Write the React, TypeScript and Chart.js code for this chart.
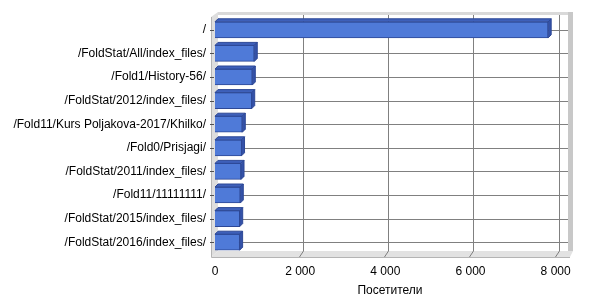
import React, { useEffect, useRef } from "react";
import { Chart, registerables } from "chart.js";

Chart.register(...registerables);

const categories: string[] = [
  "/",
  "/FoldStat/All/index_files/",
  "/Fold1/History-56/",
  "/FoldStat/2012/index_files/",
  "/Fold11/Kurs Poljakova-2017/Khilko/",
  "/Fold0/Prisjagi/",
  "/FoldStat/2011/index_files/",
  "/Fold11/11111111/",
  "/FoldStat/2015/index_files/",
  "/FoldStat/2016/index_files/",
];

const visitors: number[] = [7825, 922, 876, 862, 641, 623, 611, 594, 580, 578];

const xTicks: number[] = [0, 2000, 4000, 6000, 8000];

const axisTitle = "Посетители";

const FONT = "'Liberation Sans', Arial, sans-serif";
const DEPTH = 3;

const fmt = (v: number) =>
  String(v).replace(/\B(?=(\d{3})+(?!\d))/g, " ");

const wallsPlugin = {
  id: "walls3d",
  beforeDatasetsDraw(chart: any) {
    const { ctx, chartArea: ca, scales } = chart;
    const xs = scales.x;
    const ys = scales.y;
    const d = DEPTH;
    ctx.save();
    // back wall
    ctx.fillStyle = "#ffffff";
    ctx.fillRect(ca.left + d, ca.top - d, ca.right - ca.left, ca.bottom - ca.top);
    // walls
    ctx.fillStyle = "#d9d9d9";
    // top strip
    ctx.fillRect(ca.left + d, ca.top - d - 3, ca.right - ca.left + 5, 3);
    // right strip
    ctx.fillStyle = "#c8c8c8";
    ctx.fillRect(ca.right + d, ca.top - d - 3, 5, ca.bottom - ca.top + 3);
    // left strip
    ctx.fillStyle = "#dedede";
    ctx.beginPath();
    ctx.moveTo(ca.left - 4, ca.top - 1);
    ctx.lineTo(ca.left + d, ca.top - d - 3);
    ctx.lineTo(ca.left + d, ca.bottom - d);
    ctx.lineTo(ca.left - 4, ca.bottom + 3);
    ctx.closePath();
    ctx.fill();
    // floor
    ctx.fillStyle = "#e2e2e2";
    ctx.beginPath();
    ctx.moveTo(ca.left - 4, ca.bottom + 3);
    ctx.lineTo(ca.left + d, ca.bottom - d);
    ctx.lineTo(ca.right + d + 5, ca.bottom - d);
    ctx.lineTo(ca.right + 5, ca.bottom + 3);
    ctx.closePath();
    ctx.fill();
    // edge lines
    ctx.strokeStyle = "#b4b4b4";
    ctx.lineWidth = 1;
    ctx.beginPath();
    ctx.moveTo(ca.left - 3.5, ca.top - 1);
    ctx.lineTo(ca.left - 3.5, ca.bottom + 3.5);
    ctx.lineTo(ca.right + 5, ca.bottom + 3.5);
    ctx.stroke();
    // grid lines on back wall
    ctx.strokeStyle = "#808080";
    ctx.beginPath();
    xTicks.forEach((v) => {
      if (v === 0) return;
      const px = Math.round(xs.getPixelForValue(v) + d) + 0.5;
      ctx.moveTo(px, ca.top - d);
      ctx.lineTo(px, ca.bottom - d);
      ctx.moveTo(px, ca.bottom - d);
      ctx.lineTo(px - d - 1, ca.bottom + 3);
    });
    categories.forEach((_, i) => {
      const py = Math.round(ys.getPixelForValue(i)) + 0.5;
      ctx.moveTo(ca.left + d, py);
      ctx.lineTo(ca.right + d, py);
    });
    ctx.stroke();
    // left ticks
    ctx.strokeStyle = "#505050";
    ctx.beginPath();
    categories.forEach((_, i) => {
      const py = Math.round(ys.getPixelForValue(i)) + 0.5;
      ctx.moveTo(ca.left - 5, py);
      ctx.lineTo(ca.left - 1, py);
    });
    ctx.stroke();
    ctx.restore();
  },
};

const bars3dPlugin = {
  id: "bars3d",
  afterDatasetsDraw(chart: any) {
    const { ctx } = chart;
    const meta = chart.getDatasetMeta(0);
    const d = DEPTH;
    ctx.save();
    ctx.lineWidth = 1;
    ctx.strokeStyle = "rgb(45,72,150)";
    meta.data.forEach((el: any) => {
      const p = el.getProps(["x", "y", "base", "height"], true);
      const top = p.y - p.height / 2;
      const bottom = p.y + p.height / 2;
      const x0 = p.base;
      const x1 = p.x;
      // top face
      ctx.fillStyle = "rgb(62,96,186)";
      ctx.beginPath();
      ctx.moveTo(x0, top);
      ctx.lineTo(x0 + d, top - d);
      ctx.lineTo(x1 + d, top - d);
      ctx.lineTo(x1, top);
      ctx.closePath();
      ctx.fill();
      ctx.stroke();
      // side face
      ctx.fillStyle = "rgb(52,82,168)";
      ctx.beginPath();
      ctx.moveTo(x1, top);
      ctx.lineTo(x1 + d, top - d);
      ctx.lineTo(x1 + d, bottom - d);
      ctx.lineTo(x1, bottom);
      ctx.closePath();
      ctx.fill();
      ctx.stroke();
    });
    ctx.restore();
  },
};

export default function App() {
  const ref = useRef<HTMLCanvasElement | null>(null);
  useEffect(() => {
    if (!ref.current) return;
    const chart = new Chart(ref.current, {
      type: "bar",
      data: {
        labels: categories,
        datasets: [
          {
            data: visitors,
            backgroundColor: "rgb(79,122,216)",
            borderColor: "rgb(45,72,150)",
            borderWidth: 1,
            barThickness: 16,
          },
        ],
      },
      options: {
        indexAxis: "y",
        animation: false,
        responsive: false,
        events: [],
        layout: { padding: { left: 0, top: 18, right: 35, bottom: 0 } },
        plugins: {
          legend: { display: false },
          tooltip: { enabled: false },
        },
        scales: {
          x: {
            type: "linear",
            min: 0,
            max: 8220,
            afterBuildTicks: (scale: any) => {
              scale.ticks = xTicks.map((v) => ({ value: v }));
            },
            afterFit: (scale: any) => {
              scale.height = 46;
            },
            grid: { display: false, drawTicks: false },
            border: { display: false },
            ticks: {
              color: "#000",
              font: { family: FONT, size: 12 },
              padding: 10,
              maxRotation: 0,
              callback: (v: any) => fmt(Number(v)),
            },
            title: {
              display: true,
              text: axisTitle,
              color: "#000",
              font: { family: FONT, size: 12 },
              padding: { top: 0, bottom: 2 },
            },
          },
          y: {
            type: "category",
            afterFit: (scale: any) => {
              scale.width = 215;
            },
            grid: { display: false, drawTicks: false },
            border: { display: false },
            ticks: {
              color: "#000",
              font: { family: FONT, size: 12 },
              padding: 9,
              autoSkip: false,
            },
          },
        },
      },
      plugins: [wallsPlugin, bars3dPlugin],
    });
    return () => chart.destroy();
  }, []);
  return (
    <div style={{ position: "fixed", left: 0, top: 0, width: 600, height: 300, background: "#fff" }}>
      <canvas ref={ref} width={600} height={300} />
    </div>
  );
}
